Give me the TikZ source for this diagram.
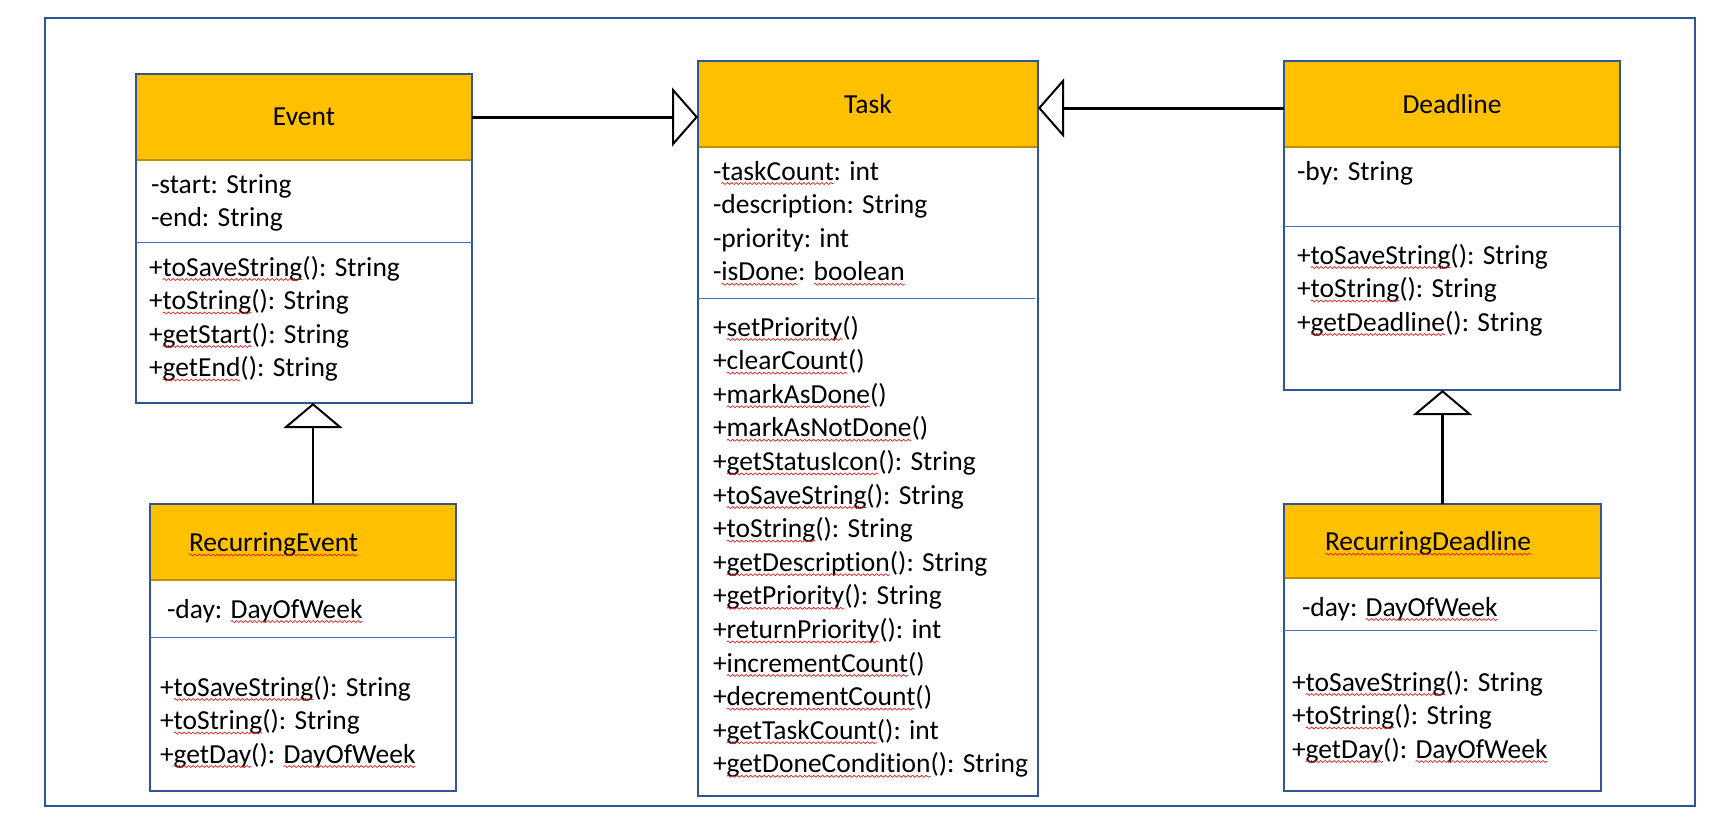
\documentclass[tikz,border=0pt]{standalone}
\usepackage{fontspec}
\setmainfont{Carlito}[Ligatures={NoCommon}]
\usetikzlibrary{arrows.meta,decorations.pathmorphing}
\definecolor{boxblue}{HTML}{2F5597}
\definecolor{sepblue}{HTML}{4472C4}
\definecolor{hdrgold}{HTML}{FFC000}
\definecolor{hdredge}{HTML}{BF9000}
\definecolor{sqred}{HTML}{E02020}
\newsavebox\sqbox
\newlength\sqw
\newcommand\sq[1]{\sbox\sqbox{#1}\setlength\sqw{\wd\sqbox}\usebox\sqbox\tikz[overlay,baseline=0pt,x=1pt,y=1pt]\draw[sqred,line width=0.7pt,decorate,decoration={snake,segment length=4.5pt,amplitude=1pt}] (-\sqw,-3.5pt) -- (0pt,-3.5pt);}
\newcommand\fs{\fontsize{27.5}{33.6}\selectfont}
\tikzset{
  every node/.style={inner sep=0pt, outer sep=0pt, font=\fs},
  umlbox/.style={draw=boxblue, line width=2pt, anchor=north west},
  hdr/.style={fill=hdrgold, anchor=north west},
  hdrline/.style={draw=hdredge, line width=2pt},
  sepline/.style={draw=sepblue, line width=1pt},
  txt/.style={anchor=base west},
  ttl/.style={anchor=base},
  gen/.style={draw=black, line width=3pt, -{Triangle[open, length=26pt, width=59pt, line width=2pt]}},
  genv/.style={draw=black, line width=2.2pt, -{Triangle[open, length=25pt, width=59pt, line width=2pt]}}
}
\begin{document}
\begin{tikzpicture}[x=1pt,y=-1pt]
\useasboundingbox (0,0) rectangle (1717,825);
\node[draw=boxblue, line width=2pt, minimum width=1650, minimum height=788, anchor=north west] (frame) at (45,18) {};

% ---------- Event ----------
\node[hdr, minimum width=336, minimum height=86] (evh) at (136,74) {};
\draw[hdrline] (evh.south west) -- (evh.south east);
\node[umlbox, minimum width=336, minimum height=329] (ev) at (136,74) {};
\draw[sepline] ([yshift=-168pt]ev.north west) -- ([yshift=-168pt]ev.north east);
\node[ttl] (evt) at (304,125.7) {Event};
\node[txt] (ev1) at (151,193) {-start: String};
\node[txt] (ev2) at (151,226.5) {-end: String};
\node[txt] (ev3) at (149,276) {+\sq{toSaveString}(): String};
\node[txt] (ev4) at (149,309.5) {+\sq{toString}(): String};
\node[txt] (ev5) at (149,343) {+\sq{getStart}(): String};
\node[txt] (ev6) at (149,376.5) {+\sq{getEnd}(): String};

% ---------- Task ----------
\node[hdr, minimum width=340, minimum height=86] (tkh) at (698,61) {};
\draw[hdrline] (tkh.south west) -- (tkh.south east);
\node[umlbox, minimum width=340, minimum height=735] (tk) at (698,61) {};
\draw[sepline] ([yshift=-237pt]tk.north west) -- ([yshift=-237pt,xshift=-3pt]tk.north east);
\node[ttl] (tkt) at (868,113) {Task};
\node[txt] (tk1) at (713,180) {-\sq{taskCount}: int};
\node[txt] (tk2) at (713,213.6) {-description: String};
\node[txt] (tk3) at (713,247.2) {-priority: int};
\node[txt] (tk4) at (713,280.8) {-\sq{isDone}: \sq{boolean}};
\node[txt] (tm1) at (713,336) {+\sq{setPriority}()};
\node[txt] (tm2) at (713,369.6) {+\sq{clearCount}()};
\node[txt] (tm3) at (713,403.2) {+\sq{markAsDone}()};
\node[txt] (tm4) at (713,436.8) {+\sq{markAsNotDone}()};
\node[txt] (tm5) at (713,470.4) {+\sq{getStatusIcon}(): String};
\node[txt] (tm6) at (713,504) {+\sq{toSaveString}(): String};
\node[txt] (tm7) at (713,537.6) {+\sq{toString}(): String};
\node[txt] (tm8) at (713,571.2) {+\sq{getDescription}(): String};
\node[txt] (tm9) at (713,604.8) {+\sq{getPriority}(): String};
\node[txt] (tm10) at (713,638.4) {+\sq{returnPriority}(): int};
\node[txt] (tm11) at (713,672) {+\sq{incrementCount}()};
\node[txt] (tm12) at (713,705.6) {+\sq{decrementCount}()};
\node[txt] (tm13) at (713,739.2) {+\sq{getTaskCount}(): int};
\node[txt] (tm14) at (713,772.8) {+\sq{getDoneCondition}(): String};

% ---------- Deadline ----------
\node[hdr, minimum width=336, minimum height=86] (dlh) at (1284,61) {};
\draw[hdrline] (dlh.south west) -- (dlh.south east);
\node[umlbox, minimum width=336, minimum height=329] (dl) at (1284,61) {};
\draw[sepline] ([yshift=-165pt]dl.north west) -- ([yshift=-165pt]dl.north east);
\node[ttl] (dlt) at (1452,113) {Deadline};
\node[txt] (dl1) at (1297,180) {-by: String};
\node[txt] (dl2) at (1297,264) {+\sq{toSaveString}(): String};
\node[txt] (dl3) at (1297,297.5) {+\sq{toString}(): String};
\node[txt] (dl4) at (1297,331) {+\sq{getDeadline}(): String};

% ---------- RecurringEvent ----------
\node[hdr, minimum width=306, minimum height=76] (reh) at (150,504) {};
\draw[hdrline] (reh.south west) -- (reh.south east);
\node[umlbox, minimum width=306, minimum height=287] (re) at (150,504) {};
\draw[sepline] ([yshift=-133pt]re.north west) -- ([yshift=-133pt]re.north east);
\node[txt] (ret) at (189,551.5) {\sq{RecurringEvent}};
\node[txt] (re1) at (167,618) {-day: \sq{DayOfWeek}};
\node[txt] (re2) at (160,696) {+\sq{toSaveString}(): String};
\node[txt] (re3) at (160,729.5) {+\sq{toString}(): String};
\node[txt] (re4) at (160,763) {+\sq{getDay}(): \sq{DayOfWeek}};

% ---------- RecurringDeadline ----------
\node[hdr, minimum width=317, minimum height=74] (rdh) at (1284,504) {};
\draw[hdrline] (rdh.south west) -- (rdh.south east);
\node[umlbox, minimum width=317, minimum height=287] (rd) at (1284,504) {};
\draw[sepline] ([yshift=-126pt]rd.north west) -- ([yshift=-126pt,xshift=-4pt]rd.north east);
\node[txt] (rdt) at (1325,550.7) {\sq{RecurringDeadline}};
\node[txt] (rd1) at (1302,616) {-day: \sq{DayOfWeek}};
\node[txt] (rd2) at (1292,691) {+\sq{toSaveString}(): String};
\node[txt] (rd3) at (1292,724.5) {+\sq{toString}(): String};
\node[txt] (rd4) at (1292,758) {+\sq{getDay}(): \sq{DayOfWeek}};

% ---------- generalisations ----------
\draw[gen] (evh.east) -- (evh.east -| tk.west);
\draw[gen] ([yshift=-4pt]dlh.west) -- ([yshift=-4pt]dlh.west -| tk.east);
\draw[genv] ([xshift=10pt]re.north) -- ([xshift=10pt]re.north |- ev.south);
\draw[genv] (rd.north) -- (rd.north |- dl.south);
\end{tikzpicture}
\end{document}
